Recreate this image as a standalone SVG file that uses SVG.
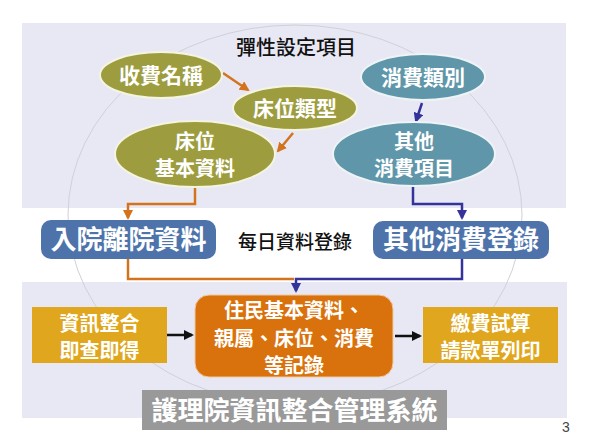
<svg xmlns="http://www.w3.org/2000/svg" width="590" height="443" viewBox="0 0 590 443">
<defs>
<style>
.panel{fill:#e8e8f4}
.olive{fill:#9d9d3f;stroke:#f4f4e0;stroke-width:2}
.teal{fill:#5f96a9;stroke:#eef4f6;stroke-width:2}
.blue{fill:#4d73aa}
.gold{fill:#e0a61e}
.wt{font-family:"Noto Sans CJK TC","Noto Sans CJK SC",sans-serif;font-weight:700;fill:#ffffff;text-anchor:middle}
.bk{font-family:"Noto Sans CJK TC","Noto Sans CJK SC",serif;font-weight:500;fill:#111111;text-anchor:middle}
.co{fill:none;stroke:#d4731e;stroke-width:2.5}
.cb{fill:none;stroke:#33339a;stroke-width:2.5}
.ck{fill:none;stroke:#111;stroke-width:2.5}
</style>
<marker id="mo" viewBox="0 0 10 10" refX="8" refY="5" markerWidth="4" markerHeight="4" orient="auto" markerUnits="strokeWidth"><path d="M0,0 L10,5 L0,10 z" fill="#d4731e"/></marker>
<marker id="mb" viewBox="0 0 10 10" refX="8" refY="5" markerWidth="4" markerHeight="4" orient="auto" markerUnits="strokeWidth"><path d="M0,0 L10,5 L0,10 z" fill="#33339a"/></marker>
<marker id="mk" viewBox="0 0 10 10" refX="8" refY="5" markerWidth="4" markerHeight="4" orient="auto" markerUnits="strokeWidth"><path d="M0,0 L10,5 L0,10 z" fill="#111"/></marker>
</defs>
<rect width="590" height="443" fill="#ffffff"/>
<g id="panels">
<rect class="panel" x="22" y="23" width="544" height="185"/>
<rect class="panel" x="22" y="282" width="545" height="136"/>
<ellipse cx="295" cy="215" rx="227" ry="190" fill="none" stroke="#d0d0d8" stroke-width="1"/>
</g>
<g id="title"><text class="bk" x="296" y="55" font-size="20">彈性設定項目</text></g>
<g id="connectors">
<path class="co" d="M223,73 L248,90" marker-end="url(#mo)"/>
<path class="co" d="M293,133 L278,151" marker-end="url(#mo)"/>
<path class="cb" d="M422,103 L416,121" marker-end="url(#mb)"/>
<path class="co" d="M195,187 V204 H128 V218" marker-end="url(#mo)"/>
<path class="cb" d="M413,186 V204 H462 V218" marker-end="url(#mb)"/>
<path class="co" d="M128,259 V279 H294"/>
<path class="cb" d="M462,259 V279 H296 V291" marker-end="url(#mb)"/>
<path class="ck" d="M167,335 H192" marker-end="url(#mk)"/>
<path class="ck" d="M395,336 H420" marker-end="url(#mk)"/>
</g>
<g id="n1"><ellipse class="olive" cx="161" cy="75" rx="61" ry="23"/><text class="wt" x="161" y="83" font-size="21">收費名稱</text></g>
<g id="n2"><ellipse class="olive" cx="295" cy="108" rx="62" ry="22"/><text class="wt" x="295" y="116" font-size="21">床位類型</text></g>
<g id="n3"><ellipse class="olive" cx="195" cy="154" rx="80" ry="33"/><text class="wt" font-size="20"><tspan x="195" y="149">床位</tspan><tspan x="195" dy="26.5">基本資料</tspan></text></g>
<g id="n4"><ellipse class="teal" cx="423" cy="77" rx="62" ry="23"/><text class="wt" x="423" y="85" font-size="21">消費類別</text></g>
<g id="n5"><ellipse class="teal" cx="414" cy="154" rx="81" ry="32"/><text class="wt" font-size="20"><tspan x="414" y="149">其他</tspan><tspan x="414" dy="26.5">消費項目</tspan></text></g>
<g id="n6"><rect class="blue" x="41" y="220" width="175" height="39" rx="10"/><text class="wt" x="128.5" y="249" font-size="26">入院離院資料</text></g>
<g id="label"><text class="bk" x="295" y="249" font-size="19">每日資料登錄</text></g>
<g id="n7"><rect class="blue" x="373" y="221" width="176" height="38" rx="10"/><text class="wt" x="461" y="249" font-size="26">其他消費登錄</text></g>
<g id="n8"><rect class="gold" x="32" y="307" width="135" height="56"/><text class="wt" font-size="20"><tspan x="99.5" y="331">資訊整合</tspan><tspan x="99.5" dy="26.5">即查即得</tspan></text></g>
<g id="n9"><rect x="195" y="295" width="198" height="82" rx="14" fill="#d9720c" stroke="#f0c9a0" stroke-width="1"/><text class="wt" font-size="20"><tspan x="294" y="318">住民基本資料、</tspan><tspan x="294" dy="27.5">親屬、床位、消費</tspan><tspan x="294" dy="27.5">等記錄</tspan></text></g>
<g id="n10"><rect class="gold" x="423" y="307" width="135" height="56"/><text class="wt" font-size="20"><tspan x="490.5" y="331">繳費試算</tspan><tspan x="490.5" dy="26.5">請款單列印</tspan></text></g>
<g id="n11"><rect x="142" y="390" width="305" height="40" fill="#999999"/><text class="wt" x="294.5" y="420" font-size="26">護理院資訊整合管理系統</text></g>
<g id="page"><text x="566" y="432" font-family="Liberation Sans, Arial, sans-serif" font-size="14" fill="#444" text-anchor="middle">3</text></g>
</svg>
